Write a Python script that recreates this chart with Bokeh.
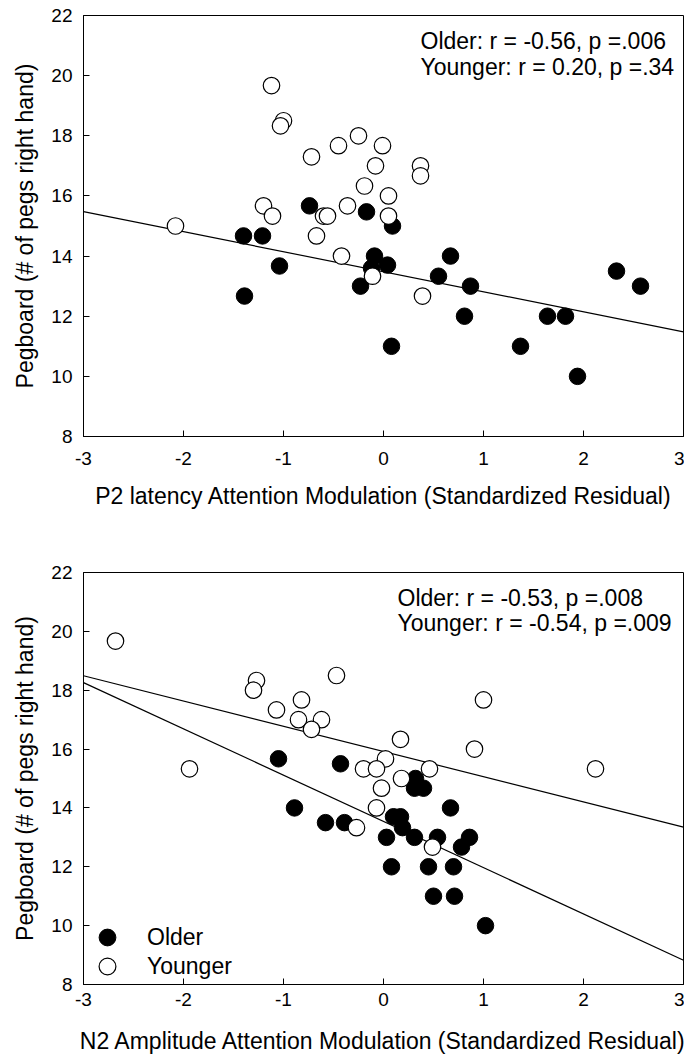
import numpy as np
from bokeh.plotting import figure
from bokeh.models import Range1d, FixedTicker, Legend, LegendItem, Label
from bokeh.layouts import column
from bokeh.embed import file_html
from bokeh.resources import INLINE

# ---------------- data ----------------
x_ticks = [-3, -2, -1, 0, 1, 2, 3]
x_tick_labels = ["-3", "-2", "-1", "0", "1", "2", "3"]
y_ticks = [8, 10, 12, 14, 16, 18, 20, 22]
y_tick_labels = ["8", "10", "12", "14", "16", "18", "20", "22"]

y_title = "Pegboard (# of pegs right hand)"
x_title_top = "P2 latency Attention Modulation (Standardized Residual)"
x_title_bottom = "N2 Amplitude Attention Modulation (Standardized Residual)"

groups = ["Older", "Younger"]

# Top panel: P2 latency
older_p2_x = [-0.74, -0.17, 0.09, -1.40, -1.21, -1.04, -0.09, 0.04, -0.12, -0.23, -1.39,
              0.08, 0.67, 0.55, 0.87, 0.81, 1.64, 1.82, 1.37, 1.94, 2.33, 2.57]
older_p2_y = [15.67, 15.47, 15.0, 14.67, 14.67, 13.67, 14.0, 13.7, 13.6, 13.0, 12.67,
              11.0, 14.0, 13.33, 13.0, 12.0, 12.0, 12.0, 11.0, 10.0, 13.5, 13.0]
younger_p2_x = [-1.12, -1.00, -1.03, -0.25, -0.45, -0.01, -0.72, -0.08, -0.19, 0.05, -1.20,
                -0.36, -1.11, -0.60, -0.56, 0.05, -2.08, -0.67, -0.42, -0.11, 0.37, 0.37, 0.39]
younger_p2_y = [19.67, 18.5, 18.33, 18.0, 17.67, 17.67, 17.3, 17.0, 16.33, 16.0, 15.67,
                15.67, 15.33, 15.33, 15.33, 15.33, 15.0, 14.67, 14.0, 13.33, 17.0, 16.67, 12.67]
stats_p2 = ["Older: r = -0.56, p =.006", "Younger: r = 0.20, p =.34"]

# Bottom panel: N2 amplitude
older_n2_x = [-1.05, -0.43, -0.89, -0.58, -0.39, 0.32, 0.31, 0.40, 0.10, 0.17, 0.19, 0.03,
              0.31, 0.54, 0.86, 0.78, 0.67, 0.08, 0.45, 0.70, 0.50, 0.71, 1.02]
older_n2_y = [15.67, 15.5, 14.0, 13.5, 13.5, 15.0, 14.67, 14.67, 13.7, 13.7, 13.33, 13.0,
              13.0, 13.0, 13.0, 12.67, 14.0, 12.0, 12.0, 12.0, 11.0, 11.0, 10.0]
younger_n2_x = [-2.68, -1.27, -1.30, -0.47, -0.82, -1.07, -0.85, -0.62, -0.72, -1.94, 0.17,
                0.02, -0.20, -0.07, 0.46, 0.18, -0.02, -0.07, -0.27, 0.49, 1.00, 0.91, 2.12]
younger_n2_y = [19.67, 18.33, 18.0, 18.5, 17.67, 17.33, 17.0, 17.0, 16.67, 15.33, 16.33,
                15.67, 15.33, 15.33, 15.33, 15.0, 14.67, 14.0, 13.33, 12.67, 17.67, 16.0, 15.33]
stats_n2 = ["Older: r = -0.53, p =.008", "Younger: r = -0.54, p =.009"]

FONT = "Liberation Sans"
X_RANGE = (-3, 3)
Y_RANGE = (8, 22)


def make_fig(height, top, bottom, x_title, tick_standoff, label_standoff):
    p = figure(width=684, height=height, output_backend="svg", toolbar_location=None,
               title=None,
               x_range=Range1d(*X_RANGE), y_range=Range1d(*Y_RANGE),
               min_border_left=83, min_border_right=1,
               min_border_top=top, min_border_bottom=bottom)
    p.grid.visible = False
    p.outline_line_color = "black"
    p.outline_line_width = 1
    p.outline_line_alpha = 1
    p.background_fill_color = "white"
    p.border_fill_color = "white"

    p.xaxis.ticker = FixedTicker(ticks=x_ticks)
    p.xaxis.major_label_overrides = dict(zip(x_ticks, x_tick_labels))
    p.yaxis.ticker = FixedTicker(ticks=y_ticks)
    p.yaxis.major_label_overrides = dict(zip(y_ticks, y_tick_labels))

    for ax in (p.xaxis[0], p.yaxis[0]):
        ax.major_tick_in = 6
        ax.major_tick_out = 0
        ax.minor_tick_in = 0
        ax.minor_tick_out = 0
        ax.major_tick_line_color = "black"
        ax.axis_line_color = "black"
        ax.major_label_text_font = FONT
        ax.major_label_text_font_size = "19px"
        ax.major_label_text_color = "black"
        ax.axis_label_text_font = FONT
        ax.axis_label_text_font_size = "23px"
        ax.axis_label_text_font_style = "normal"
        ax.axis_label_text_color = "black"

    p.xaxis.axis_label = x_title
    p.xaxis.major_label_standoff = tick_standoff
    p.xaxis.axis_label_standoff = label_standoff
    p.yaxis.axis_label = y_title
    p.yaxis.major_label_standoff = 11
    p.yaxis.axis_label_standoff = 10
    return p


def add_points(p, ox, oy, yx, yy):
    r_old = p.scatter(ox, oy, marker="circle", size=16.5, fill_color="black",
                      line_color="black", line_width=1)
    r_young = p.scatter(yx, yy, marker="circle", size=16.5, fill_color="white",
                        line_color="black", line_width=1.2)
    return r_old, r_young


def add_fit(p, xs, ys):
    slope, intercept = np.polyfit(np.array(xs), np.array(ys), 1)
    lx = np.array(X_RANGE, dtype=float)
    p.line(lx, intercept + slope * lx, line_color="black", line_width=1.2)


def add_stats(p, texts, x0, y0, dy):
    for i, t in enumerate(texts):
        p.add_layout(Label(x=x0, y=y0 - i * dy, text=t, text_font=FONT,
                           text_font_size="23px", text_color="black",
                           text_align="left", text_baseline="alphabetic"))


def legend_for(renderer, label, loc):
    return Legend(items=[LegendItem(label=label, renderers=[renderer])],
                  location=loc, padding=0, margin=0, spacing=0,
                  glyph_width=42, glyph_height=42, label_height=20,
                  label_standoff=19, label_text_font=FONT,
                  label_text_font_size="23px", label_text_color="black",
                  border_line_color=None, background_fill_alpha=0)


# ---------------- top panel ----------------
p1 = make_fig(530, 15, 94, x_title_top, 15, 15)
add_fit(p1, older_p2_x, older_p2_y)
add_points(p1, older_p2_x, older_p2_y, younger_p2_x, younger_p2_y)
add_stats(p1, stats_p2, 0.37, 21.14, 0.84)

# ---------------- bottom panel ----------------
p2 = make_fig(526, 42, 64, x_title_bottom, 8, 19)
add_fit(p2, older_n2_x, older_n2_y)
add_fit(p2, younger_n2_x, younger_n2_y)
r_old, r_young = add_points(p2, older_n2_x, older_n2_y, younger_n2_x, younger_n2_y)
add_stats(p2, stats_n2, 0.14, 21.15, 0.86)

p2.add_layout(legend_for(r_old, groups[0], (3, 26)))
p2.add_layout(legend_for(r_young, groups[1], (3, -3)))

layout = column(p1, p2)
open("out.html", "w").write(file_html(layout, INLINE))
